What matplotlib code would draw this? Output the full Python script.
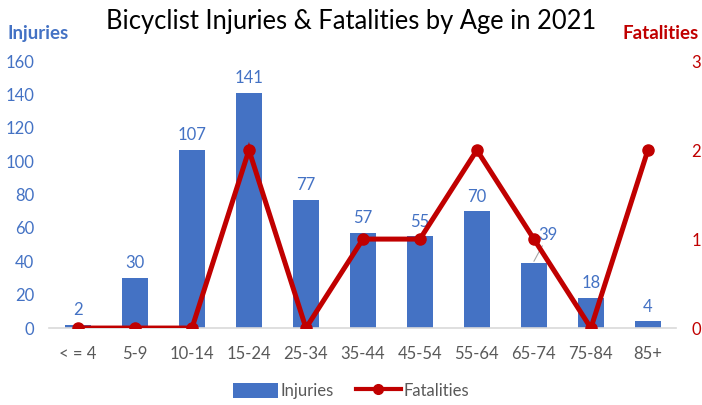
import numpy as np
import matplotlib.pyplot as plt
from matplotlib.lines import Line2D
from matplotlib.patches import Patch

plt.rcParams['font.family'] = ['Lato', 'DejaVu Sans']

ages = ['< = 4', '5-9', '10-14', '15-24', '25-34', '35-44', '45-54',
        '55-64', '65-74', '75-84', '85+']
injuries = [2, 30, 107, 141, 77, 57, 55, 70, 39, 18, 4]
fatalities = [0, 0, 0, 2, 0, 1, 1, 2, 1, 0, 2]

blue = '#4472C4'
red = '#C00000'
grey = '#595959'

fig = plt.figure(figsize=(7.02, 4.05), dpi=100)
ax = fig.add_axes([0.0705, 0.19, 0.893, 0.659])
ax2 = ax.twinx()

x = np.arange(len(ages))
bars = ax.bar(x, injuries, width=0.46, color=blue, zorder=2)
ax.set_xlim(-0.5, len(ages) - 0.5)
ax.set_ylim(0, 160)
ax.set_yticks(range(0, 161, 20))
ax.set_xticks(x)
ax.set_xticklabels(ages)
ax.tick_params(axis='x', colors=grey, labelsize=12, length=0, pad=13)
ax.tick_params(axis='y', colors=blue, labelsize=12, length=0, pad=11)
for s in ['top', 'right', 'left']:
    ax.spines[s].set_visible(False)
ax.spines['bottom'].set_color('#D9D9D9')
ax.spines['bottom'].set_linewidth(1.2)

# подписи значений
for xi, v in zip(x, injuries):
    if ages[xi] == '65-74':
        ax.annotate(str(v), xy=(xi, v + 1), xytext=(xi + 0.25, v + 12),
                    ha='center', va='bottom', color=blue, fontsize=12,
                    arrowprops=dict(arrowstyle='-', color='#A6A6A6', lw=0.8,
                                    shrinkA=0, shrinkB=0))
    else:
        ax.text(xi, v + 4, str(v), ha='center', va='bottom', color=blue,
                fontsize=12)

ax2.plot(x, fatalities, color=red, lw=3.6, marker='o', markersize=8, zorder=3,
         solid_joinstyle='miter')
ax2.set_ylim(0, 3)
ax2.set_yticks([0, 1, 2, 3])
ax2.tick_params(axis='y', colors=red, labelsize=12, length=0, pad=11)
for s in ['top', 'right', 'left', 'bottom']:
    ax2.spines[s].set_visible(False)

fig.text(0.5, 0.948, 'Bicyclist Injuries & Fatalities by Age in 2021',
         ha='center', va='center', fontsize=18.4, color='black')
fig.text(0.011, 0.918, 'Injuries', ha='left', va='center', fontsize=13.5,
         fontweight='bold', color=blue)
fig.text(0.996, 0.918, 'Fatalities', ha='right', va='center', fontsize=13.5,
         fontweight='bold', color=red)

handles = [Patch(facecolor=blue, label='Injuries'),
           Line2D([0], [0], color=red, lw=3, marker='o', markersize=7,
                  label='Fatalities')]
fig.legend(handles=handles, loc='center', bbox_to_anchor=(0.5, 0.035),
           ncol=2, frameon=False, fontsize=12, labelcolor=grey,
           handlelength=2.7, handleheight=1.0, handletextpad=0.15,
           columnspacing=1.3)

fig.savefig('out.png', dpi=100)
